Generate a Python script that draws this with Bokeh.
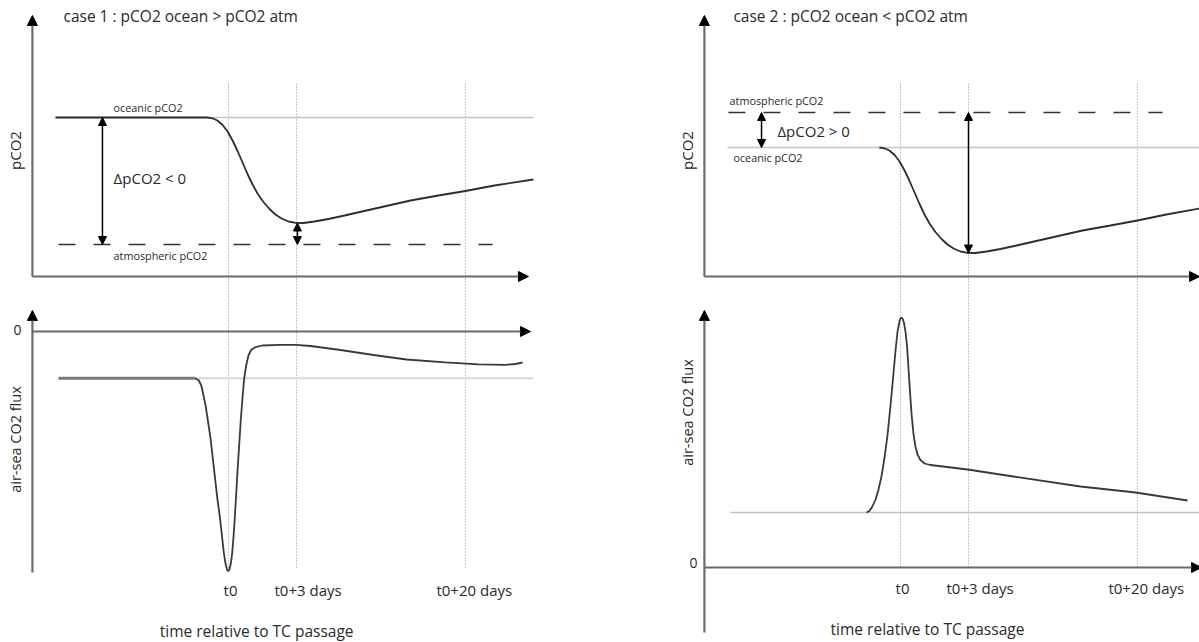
import math
from bokeh.plotting import figure
from bokeh.models import Range1d, Arrow, NormalHead
from bokeh.core.properties import value
from bokeh.embed import file_html
from bokeh.resources import INLINE

# ---------------- data (schematic units) ----------------
TICK_POS = [0.0, 3.0, 10.45]
TICK_LABELS = ["t0", "t0+3 days", "t0+20 days"]

# case 1 : pCO2 ocean > pCO2 atm
c1_pco2_t = [-7.63, -0.93, -0.71, -0.49, -0.26, -0.04, 0.18, 0.40, 0.62, 0.84, 1.06, 1.28,
             1.54, 1.81, 2.07, 2.34, 2.65, 2.96, 3.31, 3.79, 4.41, 5.12, 6.57, 8.03,
             9.26, 10.45, 11.73, 13.45]
c1_pco2_v = [15.9, 15.9, 15.82, 15.6, 15.15, 14.5, 13.6, 12.55, 11.4, 10.25, 9.2, 8.3,
             7.45, 6.75, 6.2, 5.8, 5.5, 5.37, 5.35, 5.5, 5.75, 6.1, 6.85, 7.6,
             8.1, 8.55, 9.1, 9.7]
c1_ocean = 15.9
c1_atm = 3.2
c1_flux_base = -4.67
c1_flux_t = [-1.46, -1.31, -1.20, -1.12, -1.01, -0.91, -0.79, -0.69, -0.59, -0.49, -0.38, -0.29,
             -0.21, -0.13, -0.06, -0.01, 0.04, 0.10, 0.16, 0.22, 0.28, 0.34, 0.40, 0.47,
             0.54, 0.62, 0.69, 0.78, 0.88, 1.00, 1.19, 1.49, 2.29, 2.95, 3.62, 4.94,
             6.40, 7.85, 9.57, 11.03, 12.20, 12.66, 12.97]
c1_flux_v = [-4.67, -4.9, -5.4, -6.23, -7.4, -8.9, -10.73, -12.73, -14.73, -16.73, -18.57, -20.4,
             -22.07, -23.23, -23.83, -23.97, -23.83, -23.23, -22.23, -20.57, -18.57, -16.23, -13.9, -11.4,
             -8.9, -6.57, -4.73, -3.4, -2.4, -1.83, -1.57, -1.4, -1.33, -1.33, -1.45, -1.85,
             -2.35, -2.8, -3.08, -3.28, -3.33, -3.25, -3.1]

# case 2 : pCO2 ocean < pCO2 atm
c2_pco2_t = [-0.93, -0.71, -0.49, -0.26, -0.04, 0.18, 0.40, 0.62, 0.84, 1.06, 1.28,
             1.54, 1.81, 2.07, 2.34, 2.65, 2.96, 3.31, 3.79, 4.41, 5.12, 6.57, 8.03,
             9.26, 10.45, 11.73, 13.19]
c2_pco2_v = [12.9, 12.82, 12.6, 12.15, 11.5, 10.6, 9.55, 8.4, 7.25, 6.2, 5.3,
             4.45, 3.75, 3.2, 2.8, 2.5, 2.37, 2.35, 2.5, 2.75, 3.1, 3.85, 4.6,
             5.1, 5.6, 6.2, 6.8]
c2_ocean = 12.9
c2_atm = 16.4
c2_flux_base = 5.5
c2_flux_t = [-1.50, -1.37, -1.24, -1.10, -0.97, -0.84, -0.71, -0.57, -0.44, -0.31, -0.22, -0.13,
             -0.04, 0.02, 0.09, 0.15, 0.22, 0.29, 0.35, 0.42, 0.49, 0.57, 0.66, 0.75,
             0.88, 1.06, 1.32, 2.96, 4.98, 7.94, 10.37, 12.66]
c2_flux_v = [5.5, 5.65, 6.1, 6.8, 7.8, 9.1, 10.9, 13.3, 16.2, 19.4, 21.7, 23.6,
             24.7, 25.0, 24.9, 24.5, 23.6, 22.1, 20.0, 17.5, 15.3, 13.4, 12.1, 11.3,
             10.75, 10.4, 10.25, 9.8, 9.1, 8.1, 7.5, 6.7]

# ---------------- layout (pixels) ----------------
W, H = 1199, 642
KX = 22.67          # px per schematic time unit
KY = 10.0           # px per value unit
L_T0, R_T0 = 228, 900            # frame x of t0 (left / right column)
Y_P, Y_FL, Y_FR = 276, 331, 567  # frame y of zero for pCO2, flux case1, flux case2

def xr(t0):
    return Range1d(-t0 / KX, (W - t0) / KX)

def yr(z):
    return Range1d((z - H) / KY, z / KY)

p = figure(width=W, height=H, output_backend="svg", toolbar_location=None,
           x_range=xr(L_T0), y_range=yr(Y_P), x_axis_type=None, y_axis_type=None,
           min_border=0, outline_line_color=None)
p.grid.visible = False
p.extra_x_ranges = {"right": xr(R_T0)}
p.extra_y_ranges = {"fluxL": yr(Y_FL), "fluxR": yr(Y_FR)}

FONT = value("Open Sans")
TXT = "#2a2a2a"
AX = "#6a6a6a"
CURVE = "#2e2e2e"
REF = "#c4c4c4"
TICK_FS = value("15px")

def R(col):
    return {} if col == 0 else {"x_range_name": "right"}

X_AX_L = -8.65   # y-axis position (time units)

for col in (0, 1):
    kw = R(col)
    fname = "fluxL" if col == 0 else "fluxR"
    x_end = 13.23 if col == 0 else 13.19
    # dotted time markers
    p.segment(x0=TICK_POS, y0=[19.3] * 3, x1=TICK_POS, y1=[-29.1] * 3,
              line_color="#8c8c8c", line_width=1, line_dash="1 2", **kw)
    # axes with arrow heads
    head = dict(size=10, fill_color="black", line_color="black", line_width=1)
    p.add_layout(Arrow(end=NormalHead(**head), x_start=X_AX_L, y_start=0, x_end=X_AX_L, y_end=26.1,
                       line_color=AX, line_width=2.2, **kw))
    p.add_layout(Arrow(end=NormalHead(**head), x_start=X_AX_L, y_start=0, x_end=x_end, y_end=0,
                       line_color=AX, line_width=2.2, **kw))
    fb = -24.1 if col == 0 else -6.5
    ft = 2.1 if col == 0 else 25.7
    p.add_layout(Arrow(end=NormalHead(**head), x_start=X_AX_L, y_start=fb, x_end=X_AX_L, y_end=ft,
                       line_color=AX, line_width=2.2, y_range_name=fname, **kw))
    p.add_layout(Arrow(end=NormalHead(**head), x_start=X_AX_L, y_start=0, x_end=x_end + 0.09, y_end=0,
                       line_color=AX, line_width=2.2, y_range_name=fname, **kw))
    # axis titles
    p.text(x=[-9.4], y=[12.6], text=["pCO2"], angle=math.pi / 2, text_font=FONT,
           text_font_size=value("15px"), text_color=TXT, text_align="center",
           text_baseline="middle", **kw)
    p.text(x=[-9.4], y=[-10.8 if col == 0 else 15.5], text=["air-sea CO2 flux"], angle=math.pi / 2,
           text_font=FONT, text_font_size=value("14.5px"), text_color=TXT, text_align="center",
           text_baseline="middle", y_range_name=fname, **kw)
    p.text(x=[-9.31 if col == 0 else -9.13], y=[0.2 if col == 0 else 0.5], text=["0"], text_font=FONT,
           text_font_size=value("14px"), text_color=TXT, text_align="center",
           text_baseline="middle", y_range_name=fname, **kw)
    # tick labels
    ty = -25.8 if col == 0 else -2.0
    p.text(x=TICK_POS[:1], y=[ty], text=TICK_LABELS[:1], x_offset=2, text_font=FONT,
           text_font_size=TICK_FS, text_color=TXT, text_align="center",
           text_baseline="middle", y_range_name=fname, **kw)
    p.text(x=TICK_POS[1:2], y=[ty], text=TICK_LABELS[1:2], x_offset=-22, text_font=FONT,
           text_font_size=TICK_FS, text_color=TXT, text_align="left",
           text_baseline="middle", y_range_name=fname, **kw)
    p.text(x=TICK_POS[2:], y=[ty], text=TICK_LABELS[2:], x_offset=-29, text_font=FONT,
           text_font_size=TICK_FS, text_color=TXT, text_align="left",
           text_baseline="middle", y_range_name=fname, **kw)
    p.text(x=[1.24 if col == 0 else 1.19], y=[-29.9 if col == 0 else -6.1],
           text=["time relative to TC passage"], text_font=FONT, text_font_size=value("15.5px"),
           text_color=TXT, text_align="center", text_baseline="middle", y_range_name=fname, **kw)

dh = dict(size=8, fill_color="black", line_color="black", line_width=1)
SMALL_FS = value("10.8px")

# ---------------- case 1 ----------------
p.text(x=[-7.28], y=[26.1], text=["case 1  : pCO2 ocean > pCO2 atm"], text_font=FONT,
       text_font_size=value("15.5px"), text_color=TXT, text_align="left", text_baseline="middle")
p.line(x=[-7.63, 13.45], y=[c1_ocean, c1_ocean], line_color=REF, line_width=1.3)
p.line(x=[-7.5, 11.65], y=[c1_atm, c1_atm], line_color="#333333", line_width=1.5, line_dash="17 18")
p.line(x=c1_pco2_t, y=c1_pco2_v, line_color=CURVE, line_width=1.8)
p.text(x=[-5.07], y=[16.9], text=["oceanic pCO2"], text_font=FONT, text_font_size=SMALL_FS,
       text_color=TXT, text_align="left", text_baseline="middle")
p.text(x=[-5.07], y=[2.1], text=["atmospheric pCO2"], text_font=FONT, text_font_size=SMALL_FS,
       text_color=TXT, text_align="left", text_baseline="middle")
p.text(x=[-5.07], y=[9.9], text=["ΔpCO2 < 0"], text_font=FONT, text_font_size=value("15px"),
       text_color=TXT, text_align="left", text_baseline="middle")
p.add_layout(Arrow(start=NormalHead(**dh), end=NormalHead(**dh), x_start=-5.56, y_start=c1_ocean,
                   x_end=-5.56, y_end=c1_atm, line_color="black", line_width=1.5))
p.add_layout(Arrow(start=NormalHead(**dh), end=NormalHead(**dh), x_start=3.04, y_start=min(c1_pco2_v),
                   x_end=3.04, y_end=c1_atm, line_color="black", line_width=1.5))

p.line(x=[-7.5, 13.45], y=[c1_flux_base, c1_flux_base], line_color="#dddddd", line_width=2.5,
       y_range_name="fluxL")
p.line(x=[-7.5, -1.46], y=[c1_flux_base, c1_flux_base], line_color="#7a7a7a", line_width=3,
       y_range_name="fluxL")
p.line(x=c1_flux_t, y=c1_flux_v, line_color="#3a3a3a", line_width=1.8, y_range_name="fluxL")

# ---------------- case 2 ----------------
RK = {"x_range_name": "right"}
p.text(x=[-7.37], y=[26.1], text=["case 2 : pCO2 ocean < pCO2 atm"], text_font=FONT,
       text_font_size=value("15.5px"), text_color=TXT, text_align="left", text_baseline="middle", **RK)
p.line(x=[-7.63, 13.3], y=[c2_ocean, c2_ocean], line_color=REF, line_width=1.3, **RK)
p.line(x=[-7.59, 11.56], y=[c2_atm, c2_atm], line_color="#333333", line_width=1.5, line_dash="17 18", **RK)
p.line(x=c2_pco2_t, y=c2_pco2_v, line_color=CURVE, line_width=1.8, **RK)
p.text(x=[-7.54], y=[17.6], text=["atmospheric pCO2"], text_font=FONT, text_font_size=SMALL_FS,
       text_color=TXT, text_align="left", text_baseline="middle", **RK)
p.text(x=[-7.37], y=[11.9], text=["oceanic pCO2"], text_font=FONT, text_font_size=SMALL_FS,
       text_color=TXT, text_align="left", text_baseline="middle", **RK)
p.text(x=[-5.43], y=[14.6], text=["ΔpCO2 > 0"], text_font=FONT, text_font_size=value("15px"),
       text_color=TXT, text_align="left", text_baseline="middle", **RK)
p.add_layout(Arrow(start=NormalHead(**dh), end=NormalHead(**dh), x_start=-6.13, y_start=c2_atm,
                   x_end=-6.13, y_end=c2_ocean, line_color="black", line_width=1.5, **RK))
p.add_layout(Arrow(start=NormalHead(**dh), end=NormalHead(**dh), x_start=3.0, y_start=c2_atm,
                   x_end=3.0, y_end=min(c2_pco2_v), line_color="black", line_width=1.5, **RK))

p.line(x=[-7.5, 13.3], y=[c2_flux_base, c2_flux_base], line_color=REF, line_width=1.3,
       y_range_name="fluxR", **RK)
p.line(x=c2_flux_t, y=c2_flux_v, line_color="#3a3a3a", line_width=1.8, y_range_name="fluxR", **RK)

open("out.html", "w").write(file_html(p, INLINE))
